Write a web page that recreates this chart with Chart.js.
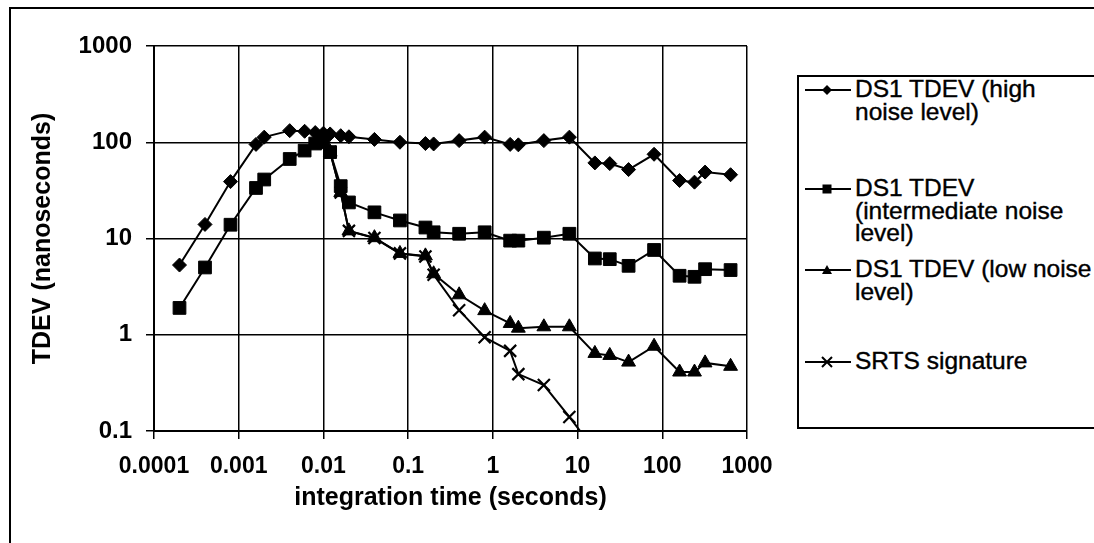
<!DOCTYPE html>
<html>
<head>
<meta charset="utf-8">
<script src="https://cdn.jsdelivr.net/npm/chart.js@4.4.1/dist/chart.umd.min.js"></script>
<style>
  html, body { margin:0; padding:0; background:#fff; }
  #wrap { position:relative; width:1094px; height:543px; overflow:hidden; background:#fff; }
  #frame { position:absolute; left:9px; top:7px; width:1200px; height:700px; border:2px solid #000; box-sizing:border-box; }
  canvas { position:absolute; left:0; top:0; }
  #legend { position:absolute; left:797px; top:75px; width:400px; height:354px; border:2px solid #000; border-right:none; box-sizing:border-box; background:#fff; font-family:"Liberation Sans", Arial, sans-serif; font-size:24.5px; color:#000; -webkit-text-stroke:0.4px #000; }
  .item { position:absolute; left:0; }
  .item svg { position:absolute; left:6px; top:5px; }
  .item .txt { position:absolute; left:56px; top:0; line-height:22.5px; white-space:nowrap; }
</style>
</head>
<body>
<div id="wrap">
  <div id="frame"></div>
  <canvas id="c" width="1094" height="543"></canvas>
  <div id="legend"></div>
</div>
<script>
// ---- data ----
const seriesNames = ['DS1 TDEV (high noise level)', 'DS1 TDEV (intermediate noise level)', 'DS1 TDEV (low noise level)', 'SRTS signature'];
const legendLines = [['DS1 TDEV (high', 'noise level)'], ['DS1 TDEV', '(intermediate noise', 'level)'], ['DS1 TDEV (low noise', 'level)'], ['SRTS signature']];

const tauAll = [0.0002, 0.0004, 0.0008, 0.0016, 0.002, 0.004, 0.006, 0.008, 0.01, 0.012, 0.016, 0.02, 0.04, 0.08, 0.16, 0.2, 0.4, 0.8, 1.6, 2, 4, 8, 16, 24, 40, 80, 160, 240, 320, 640];
const highNoise = [5.3, 14, 39, 95, 113, 132, 130, 126, 124, 122, 117, 114, 107, 100, 97, 96, 104, 113, 95, 94, 104, 113, 61, 60, 52, 75, 40, 38.5, 49, 46];
const intermediateNoise = [1.9, 5.0, 13.9, 33.5, 41, 67, 82, 97, 100, 79, 35, 23.7, 18.7, 15.4, 13.0, 11.6, 11.2, 11.6, 9.5, 9.5, 10.2, 11.2, 6.2, 6.1, 5.2, 7.6, 4.1, 4.0, 4.8, 4.7];

const tauLow = [0.012, 0.016, 0.02, 0.04, 0.08, 0.16, 0.2, 0.4, 0.8, 1.6, 2, 4, 8, 16, 24, 40, 80, 160, 240, 320, 640];
const lowNoise = [79, 30, 12, 10.2, 7.0, 6.6, 4.3, 2.6, 1.78, 1.31, 1.17, 1.21, 1.21, 0.64, 0.61, 0.52, 0.76, 0.41, 0.41, 0.51, 0.47];

const tauSrts = [0.012, 0.016, 0.02, 0.04, 0.08, 0.16, 0.2, 0.4, 0.8, 1.6, 2, 4, 8, 16];
const srts = [79, 30, 12, 10.1, 7.0, 6.5, 4.2, 1.8, 0.94, 0.68, 0.39, 0.30, 0.14, 0.063];

const xTickValues = [0.0001, 0.001, 0.01, 0.1, 1, 10, 100, 1000];
const xTickLabels = ['0.0001', '0.001', '0.01', '0.1', '1', '10', '100', '1000'];
const yTickValues = [0.1, 1, 10, 100, 1000];
const yTickLabels = ['0.1', '1', '10', '100', '1000'];

// ---- build ----
function pts(xs, ys) { return xs.map((x, i) => ({ x: x, y: ys[i] })); }
const markerStyles = ['rectRot', 'rect', 'triangle', 'crossRot'];
const markerRadius = [7, 9, 8, 8.5];

const datasets = [
  pts(tauAll, highNoise),
  pts(tauAll, intermediateNoise),
  pts(tauLow, lowNoise),
  pts(tauSrts, srts)
].map((d, i) => ({
  label: seriesNames[i],
  data: d,
  borderColor: '#000',
  backgroundColor: '#000',
  borderWidth: 2,
  pointStyle: markerStyles[i],
  pointRadius: markerRadius[i],
  pointBorderWidth: i === 3 ? 2.2 : 1,
  pointBackgroundColor: '#000',
  pointBorderColor: '#000',
  tension: 0,
  fill: false
}));

const fontFam = '"Liberation Sans", Arial, sans-serif';

new Chart(document.getElementById('c'), {
  type: 'line',
  data: { datasets: datasets },
  options: {
    responsive: false,
    animation: false,
    layout: { padding: { left: 0, top: 46, right: 347, bottom: 0 } },
    plugins: { legend: { display: false }, tooltip: { enabled: false } },
    scales: {
      x: {
        type: 'logarithmic',
        min: 0.0001, max: 1000,
        afterBuildTicks: s => { s.ticks = xTickValues.map(v => ({ value: v })); },
        afterFit: s => { s.height = 112; },
        ticks: {
          autoSkip: false, maxRotation: 0, color: '#000', padding: 14,
          font: { family: fontFam, size: 23, weight: 'bold' },
          callback: (v, i) => xTickLabels[i]
        },
        grid: { color: '#000', lineWidth: 1.5, tickLength: 8, drawTicks: true },
        border: { color: '#000', width: 2 },
        title: { display: true, text: 'integration time (seconds)', color: '#000', font: { family: fontFam, size: 25, weight: 'bold' }, padding: { top: 0, bottom: 30 } }
      },
      y: {
        type: 'logarithmic',
        min: 0.1, max: 1000,
        afterBuildTicks: s => { s.ticks = yTickValues.map(v => ({ value: v })); },
        afterFit: s => { s.width = 154; },
        ticks: {
          autoSkip: false, color: '#000', padding: 14,
          font: { family: fontFam, size: 24, weight: 'bold' },
          callback: (v, i) => yTickLabels[i]
        },
        grid: { color: '#000', lineWidth: 1.5, tickLength: 8, drawTicks: true },
        border: { color: '#000', width: 2 },
        title: { display: true, text: 'TDEV (nanoseconds)', color: '#000', font: { family: fontFam, size: 25, weight: 'bold' }, padding: { top: 28, bottom: 0 } }
      }
    }
  }
});

// ---- legend (HTML) ----
const legendTops = [1, 100, 181, 273];
const legendEl = document.getElementById('legend');
function markerSvg(i) {
  const cx = 22, cy = 7;
  let m = '';
  if (i === 0) m = `<polygon points="${cx},${cy-5} ${cx+5},${cy} ${cx},${cy+5} ${cx-5},${cy}" fill="#000"/>`;
  if (i === 1) m = `<rect x="${cx-4.5}" y="${cy-4.5}" width="9" height="9" fill="#000"/>`;
  if (i === 2) m = `<polygon points="${cx},${cy-5} ${cx+5},${cy+4} ${cx-5},${cy+4}" fill="#000"/>`;
  if (i === 3) m = `<path d="M${cx-5} ${cy-5} L${cx+5} ${cy+5} M${cx+5} ${cy-5} L${cx-5} ${cy+5}" stroke="#000" stroke-width="2"/>`;
  return `<svg width="46" height="14"><line x1="0" y1="${cy}" x2="46" y2="${cy}" stroke="#000" stroke-width="2"/>${m}</svg>`;
}
legendLines.forEach((lines, i) => {
  const d = document.createElement('div');
  d.className = 'item';
  d.style.top = legendTops[i] + 'px';
  d.innerHTML = markerSvg(i) + `<div class="txt">${lines.join('<br>')}</div>`;
  legendEl.appendChild(d);
});
</script>
</body>
</html>
